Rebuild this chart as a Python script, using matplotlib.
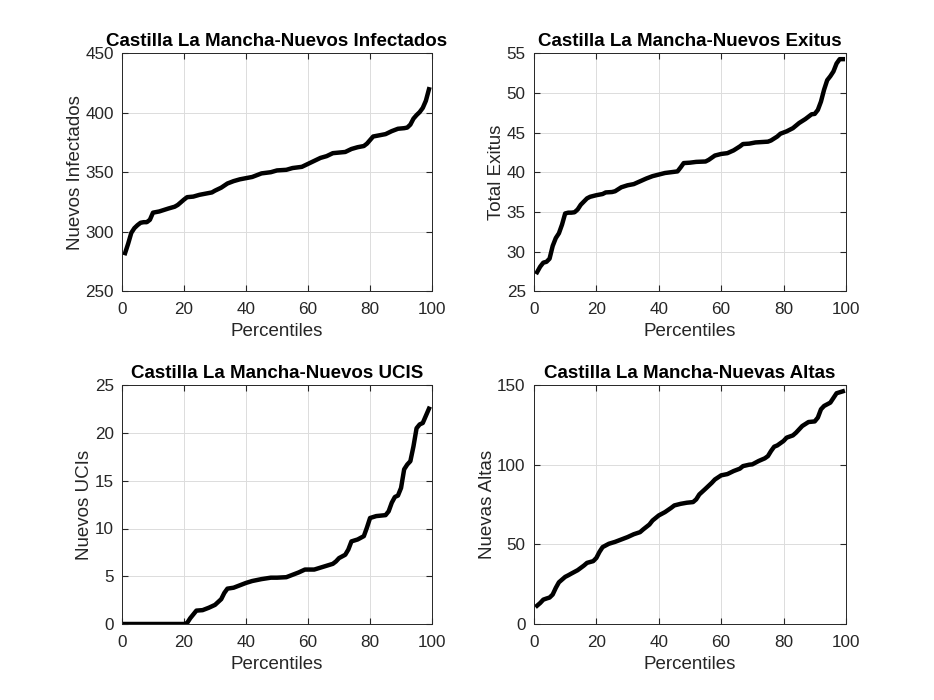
import matplotlib
matplotlib.use('Agg')
import matplotlib.pyplot as plt

plt.rcParams['font.family'] = ['Liberation Sans', 'DejaVu Sans']

# percentiles and values
x_inf = [1, 2, 3, 4, 5, 6, 7, 8, 9, 10, 12, 15, 17, 18, 20, 21, 23, 25, 27, 29, 30, 32, 34, 36, 38, 40,
         42, 44, 45, 48, 50, 53, 55, 58, 60, 62, 64, 66, 68, 70, 72, 74, 76, 78, 79, 81, 83, 85, 87, 89,
         91, 92, 93, 94, 95, 96, 97, 98, 99]
infectados = [282, 290, 299, 303, 305.5, 307.5, 308, 308, 310, 316, 317, 319.5, 321, 322.5, 327, 329,
              329.5, 331, 332, 333, 334.5, 337, 340.5, 342.5, 344, 345, 346, 348, 349, 350, 351.5, 352,
              353.5, 354.5, 357, 359.5, 362, 363.5, 366, 366.5, 367, 369.5, 371, 372, 374, 380, 381, 382,
              384.5, 386.5, 387, 387.5, 390, 395, 398, 400.5, 404, 410, 419.7]

x_exi = [1, 2, 3, 4, 5, 6, 7, 8, 9, 10, 11, 12, 13, 14, 15, 16, 17, 18, 20, 22, 23, 25, 26, 28, 30, 32,
         34, 36, 38, 40, 42, 44, 46, 47, 48, 50, 52, 55, 56, 58, 60, 62, 64, 66, 67, 69, 71, 73, 75, 76,
         78, 79, 81, 83, 85, 87, 89, 90, 91, 92, 93, 94, 95, 96, 97, 98, 99]
exitus = [27.4, 28.1, 28.6, 28.7, 29.1, 30.7, 31.7, 32.3, 33.4, 34.8, 34.9, 34.9, 34.95, 35.3, 35.9, 36.3,
          36.7, 36.9, 37.1, 37.25, 37.45, 37.5, 37.6, 38.1, 38.35, 38.5, 38.85, 39.2, 39.5, 39.7, 39.9,
          40.0, 40.1, 40.6, 41.15, 41.2, 41.3, 41.35, 41.55, 42.1, 42.3, 42.4, 42.75, 43.25, 43.55, 43.6,
          43.75, 43.8, 43.85, 44.0, 44.5, 44.85, 45.15, 45.55, 46.2, 46.7, 47.3, 47.35, 47.85, 48.9, 50.4,
          51.6, 52.1, 52.7, 53.7, 54.25, 54.25]

x_uci = [1, 5, 10, 15, 20, 21, 22, 23, 24, 26, 28, 30, 31, 32, 33, 34, 36, 38, 40, 42, 45, 48, 50, 53,
         55, 57, 59, 62, 64, 66, 68, 69, 70, 72, 73, 74, 76, 78, 79, 80, 82, 85, 86, 87, 88, 89, 90, 91,
         92, 93, 94, 95, 96, 97, 98, 99]
ucis = [0, 0, 0, 0, 0, 0.1, 0.6, 1.0, 1.4, 1.45, 1.7, 2.0, 2.3, 2.6, 3.25, 3.7, 3.8, 4.05, 4.3, 4.5, 4.7,
        4.85, 4.85, 4.9, 5.15, 5.4, 5.7, 5.7, 5.9, 6.1, 6.3, 6.55, 6.9, 7.25, 7.8, 8.65, 8.85, 9.2, 10.1,
        11.1, 11.3, 11.4, 11.8, 12.7, 13.3, 13.45, 14.25, 16.2, 16.7, 17.05, 18.6, 20.5, 20.9, 21.05,
        21.8, 22.55]

x_alt = [1, 2, 3, 4, 5, 6, 7, 8, 9, 10, 11, 12, 14, 16, 17, 19, 20, 21, 22, 24, 26, 28, 30, 32, 34, 35,
         37, 38, 40, 42, 44, 45, 47, 49, 51, 52, 53, 55, 57, 58, 60, 62, 64, 66, 67, 69, 70, 72, 74, 75,
         76, 77, 78, 80, 81, 83, 84, 86, 88, 90, 91, 92, 93, 95, 97, 99]
altas = [11.5, 13.2, 15.3, 16, 16.6, 18.5, 22.7, 26.2, 27.9, 29.6, 30.6, 31.7, 33.8, 36.7, 38.4, 39.5,
         41.5, 45.3, 48.3, 50.4, 51.6, 53.1, 54.6, 56.4, 57.7, 59.4, 62.5, 65.0, 68.2, 70.3, 73.0, 74.5,
         75.5, 76.2, 76.6, 78.3, 81.4, 85.0, 88.7, 90.8, 93.4, 94.2, 96.1, 97.6, 99.2, 100.1, 100.3,
         102.4, 104.1, 105.5, 108.7, 111.4, 112.2, 115, 117.1, 118.5, 120.2, 124.4, 126.9, 127.3, 129.7,
         134.9, 137, 139.1, 145, 146.2]

titles = ['Castilla La Mancha-Nuevos Infectados', 'Castilla La Mancha-Nuevos Exitus',
          'Castilla La Mancha-Nuevos UCIS', 'Castilla La Mancha-Nuevas Altas']
ylabels = ['Nuevos Infectados', 'Total Exitus', 'Nuevos UCIs', 'Nuevas Altas']
ylims = [(250, 450), (25, 55), (0, 25), (0, 150)]
yticks = [range(250, 451, 50), range(25, 56, 5), range(0, 26, 5), range(0, 151, 50)]

series = [(x_inf, infectados), (x_exi, exitus), (x_uci, ucis), (x_alt, altas)]
boxes = [[0.1306, 0.584, 0.332, 0.34], [0.5717, 0.584, 0.334, 0.34],
         [0.1306, 0.1086, 0.332, 0.341], [0.5717, 0.1086, 0.334, 0.341]]

dark = '#262626'
fs = 13.5
tfs = 12.3
fig = plt.figure(figsize=(9.34, 7.0), dpi=100)
for i in range(4):
    ax = fig.add_axes(boxes[i])
    xs, ys = series[i]
    ax.plot(xs, ys, color='black', linewidth=3.2)
    ax.set_xlim(0, 100)
    ax.set_ylim(*ylims[i])
    ax.set_xticks(range(0, 101, 20))
    ax.set_yticks(list(yticks[i]))
    ax.grid(True, color='#dcdcdc', linewidth=0.7)
    ax.set_axisbelow(True)
    ax.tick_params(direction='in', length=4, labelsize=tfs, colors=dark, top=True, right=True)
    ax.tick_params(axis='x', pad=8)
    ax.tick_params(axis='y', pad=6)
    for s in ax.spines.values():
        s.set_color(dark)
        s.set_linewidth(0.7)
    ax.set_title(titles[i], fontsize=fs, fontweight='bold', color='black', pad=5)
    ax.set_xlabel('Percentiles', fontsize=fs, color=dark, labelpad=4)
    ax.set_ylabel(ylabels[i], fontsize=fs, color=dark, labelpad=1)

fig.savefig('out.png', dpi=100)
